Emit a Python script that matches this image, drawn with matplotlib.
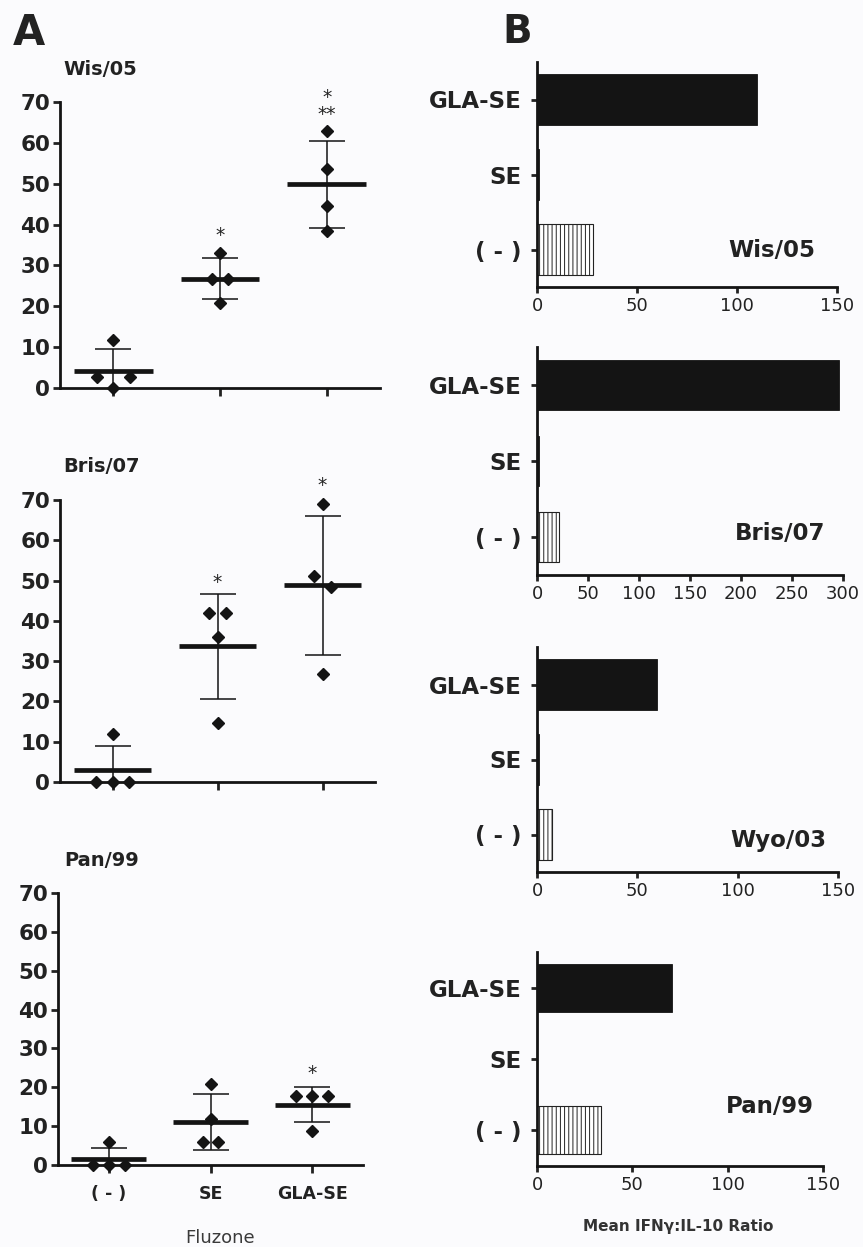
import matplotlib
matplotlib.use("Agg")
import matplotlib.pyplot as plt
import numpy as np

W, H = 863, 1247

# panel A: individual values per group
groups = ["( - )", "SE", "GLA-SE"]
wis05_pts = [[11.8, 2.6, 2.6, 0.0], [33.1, 26.6, 26.6, 20.7], [62.8, 53.7, 44.6, 38.5]]
bris07_pts = [[11.8, 0.0, 0.0, 0.0], [42.0, 42.0, 35.9, 14.7], [68.9, 51.1, 48.5, 26.8]]
pan99_pts = [[6.0, 0.0, 0.0, 0.0], [20.9, 11.8, 5.8, 5.8], [17.8, 17.8, 17.8, 8.85]]

# significance marks: (group index, y, text)
wis05_stars = [(1, 38.6, "*"), (2, 72.4, "*"), (2, 68.3, "**")]
bris07_stars = [(1, 51.0, "*"), (2, 75.0, "*")]
pan99_stars = [(2, 24.9, "*")]

# panel B: mean IFN-gamma:IL-10 ratio, order (-), SE, GLA-SE
strains_b = ["Wis/05", "Bris/07", "Wyo/03", "Pan/99"]
ratio_neg = [28, 21.5, 7.5, 33.5]
ratio_se = [1, 2, 1, 0]
ratio_gla = [110, 296, 60, 71]
xmax_b = [150, 300, 150, 150]
xticks_b = [[0, 50, 100, 150], [0, 50, 100, 150, 200, 250, 300],
            [0, 50, 100, 150], [0, 50, 100, 150]]

TXT = "#222222"
plt.rcParams["font.family"] = ["DejaVu Sans"]
plt.rcParams["hatch.linewidth"] = 0.7

fig = plt.figure(figsize=(W / 100, H / 100), dpi=100, facecolor="#fbfbfd")


def px_axes(left, top, right, bottom):
    return fig.add_axes([left / W, 1 - bottom / H, (right - left) / W, (bottom - top) / H])


def spread(vals, thresh=3.0):
    """Horizontal offsets (in steps) for points that would overlap."""
    vals = np.asarray(vals)
    order = list(np.argsort(-vals, kind="stable"))
    clusters = []
    for i in order:
        if clusters and abs(vals[clusters[-1][0]] - vals[i]) < thresh:
            clusters[-1].append(i)
        else:
            clusters.append([i])
    offs = np.zeros(len(vals))
    for c in clusters:
        n = len(c)
        if n % 2 and n > 1:
            rest = c[:-1]
            c = rest[:(n - 1) // 2] + [c[-1]] + rest[(n - 1) // 2:]
        for k, i in enumerate(c):
            offs[i] = k - (n - 1) / 2
    return offs


def dot_panel(ax, pts, stars, show_labels):
    for gi, vals in enumerate(pts):
        vals = np.asarray(vals)
        m = vals.mean()
        sd = vals.std(ddof=1)
        ax.plot(gi + 0.155 * spread(vals), vals, "D", ms=6.5, color="#141414",
                clip_on=False, zorder=3)
        ax.hlines(m, gi - 0.37, gi + 0.37, color="#141414", lw=3.4, zorder=4)
        ax.errorbar(gi, m, yerr=sd, fmt="none", ecolor="#141414", elinewidth=1.1,
                    capsize=13, capthick=1.1, zorder=2)
    for gi, y, s in stars:
        ax.annotate(s, (gi, y), xytext=(0, -8), textcoords="offset points",
                    ha="center", va="baseline", fontsize=13.5, color=TXT,
                    annotation_clip=False)
    ax.set_xlim(-0.5, 2.5)
    ax.set_ylim(0, 70)
    ax.set_yticks(range(0, 71, 10))
    ax.set_xticks(range(3))
    for s in ["top", "right"]:
        ax.spines[s].set_visible(False)
    for s in ["left", "bottom"]:
        ax.spines[s].set_linewidth(2)
        ax.spines[s].set_color("#141414")
    ax.set_facecolor("none")
    ax.tick_params(axis="y", length=5, width=2, pad=2, labelsize=15.5,
                   colors=TXT)
    ax.tick_params(axis="x", length=5.5, width=2, pad=9, labelsize=12.5,
                   colors=TXT)
    for lab in ax.get_yticklabels():
        lab.set_fontweight("bold")
    if show_labels:
        ax.set_xticklabels(groups, fontweight="bold")
    else:
        ax.set_xticklabels([])


# panel A
axA = [px_axes(60, 102, 380, 388), px_axes(60, 500, 375, 782), px_axes(58, 893, 363, 1165)]
dot_panel(axA[0], wis05_pts, wis05_stars, False)
dot_panel(axA[1], bris07_pts, bris07_stars, False)
dot_panel(axA[2], pan99_pts, pan99_stars, True)

titlesA = [("Wis/05", 63, 75), ("Bris/07", 63, 472), ("Pan/99", 64, 866)]
for t, x, y in titlesA:
    fig.text(x / W, 1 - y / H, t, fontsize=14, fontweight="bold", color=TXT,
             va="baseline")

# panel B
boxesB = [(537, 62, 837, 287), (537, 347, 843, 575), (537, 647, 838, 872), (537, 952, 823, 1166)]
label_pos = [(0.637, 0.133), (0.647, 0.154), (0.641, 0.111), (0.661, 0.248)]
for k, box in enumerate(boxesB):
    ax = px_axes(*box)
    ax.barh(0, ratio_neg[k], height=0.67, color="white", edgecolor="#222222",
            hatch="||||", lw=0.8)
    ax.barh(1, ratio_se[k], height=0.67, color="#141414", edgecolor="#141414", lw=0.6)
    ax.barh(2, ratio_gla[k], height=0.67, color="#141414", edgecolor="#141414", lw=0.6)
    ax.set_xlim(0, xmax_b[k])
    ax.set_ylim(-0.5, 2.5)
    ax.set_xticks(xticks_b[k])
    ax.set_yticks(range(3))
    ax.set_yticklabels(groups, fontweight="bold")
    for s in ["top", "right"]:
        ax.spines[s].set_visible(False)
    for s in ["left", "bottom"]:
        ax.spines[s].set_linewidth(2)
        ax.spines[s].set_color("#141414")
    ax.set_facecolor("none")
    ax.tick_params(axis="y", length=4, width=2, pad=7, labelsize=16.5, colors=TXT)
    ax.tick_params(axis="x", length=4, width=2, pad=3, labelsize=13, colors=TXT)
    ax.text(label_pos[k][0], label_pos[k][1], strains_b[k], transform=ax.transAxes,
            fontsize=16.5, fontweight="bold", color=TXT, va="baseline")

fig.text(13 / W, 1 - 45 / H, "A", fontsize=30, fontweight="bold", color=TXT, va="baseline")
fig.text(502 / W, 1 - 43 / H, "B", fontsize=28, fontweight="bold", color=TXT, va="baseline")
fig.text(220 / W, 1 - 1243 / H, "Fluzone", fontsize=13, color="#3a3a3a",
         ha="center", va="baseline")
fig.text(678 / W, 1 - 1231 / H, "Mean IFN\u03b3:IL-10 Ratio", fontsize=11,
         fontweight="bold", color="#333333", ha="center", va="baseline")

fig.savefig("out.png", dpi=100, facecolor=fig.get_facecolor())
